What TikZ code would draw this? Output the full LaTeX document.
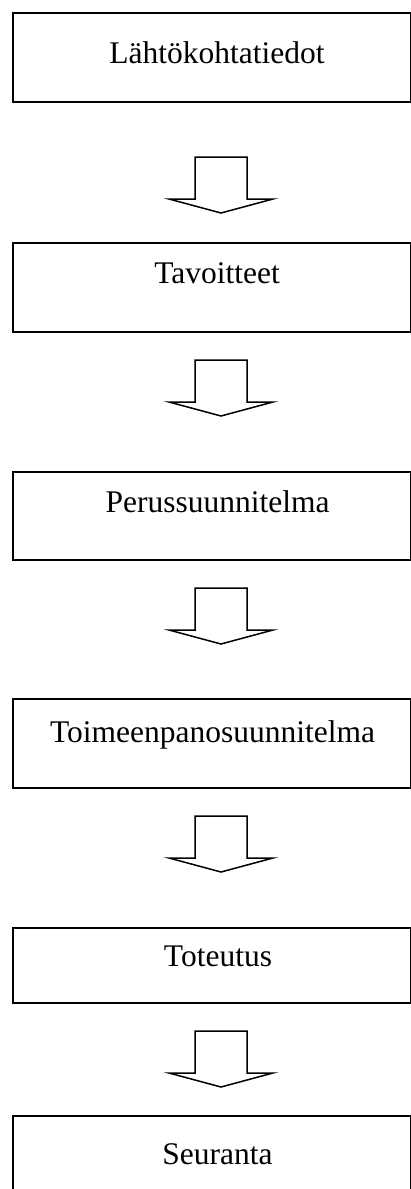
\documentclass[tikz,border=0pt]{standalone}
\usepackage{fontspec}
\setmainfont{Liberation Serif}
\begin{document}
\begin{tikzpicture}[x=1pt,y=-1pt,
  stagebox/.style={draw=black, line width=1.8pt, rectangle, inner sep=0pt,
                   minimum width=398pt, anchor=north west},
  stagetext/.style={anchor=base, inner sep=0pt, font=\fontsize{31.5pt}{36pt}\selectfont},
  blockarrow/.pic={
    \draw[line width=1.5pt, line join=miter, fill=white]
      (-26,0) -- (26,0) -- (26,42) -- (52,42) -- (0,56) -- (-52,42) -- (-26,42) -- cycle;
  }]
\useasboundingbox (0,0) rectangle (411,1189);

% stage boxes, top to bottom
\node[stagebox, minimum height=89pt] (b1) at (12,12) {};
\node[stagebox, minimum height=89pt] (b2) at (12,242) {};
\node[stagebox, minimum height=88pt] (b3) at (12,471) {};
\node[stagebox, minimum height=89pt] (b4) at (12,698) {};
\node[stagebox, minimum height=75pt] (b5) at (12,927) {};
\node[stagebox, minimum height=89pt] (b6) at (12,1115) {};

% stage names
\node[stagetext] (t1) at (217,63)   {Lähtökohtatiedot};
\node[stagetext] (t2) at (217,283)  {Tavoitteet};
\node[stagetext] (t3) at (217.5,512) {Perussuunnitelma};
\node[stagetext] (t4) at (212.5,742) {Toimeenpanosuunnitelma};
\node[stagetext] (t5) at (218,966)  {Toteutus};
\node[stagetext] (t6) at (217.5,1164) {Seuranta};

% block arrows between stages
\coordinate (a1) at (221,157);
\coordinate (a2) at (221,360);
\coordinate (a3) at (221,588);
\coordinate (a4) at (221,816);
\coordinate (a5) at (221,1031);
\foreach \a in {a1,a2,a3,a4,a5} \pic at (\a) {blockarrow};
\end{tikzpicture}
\end{document}
